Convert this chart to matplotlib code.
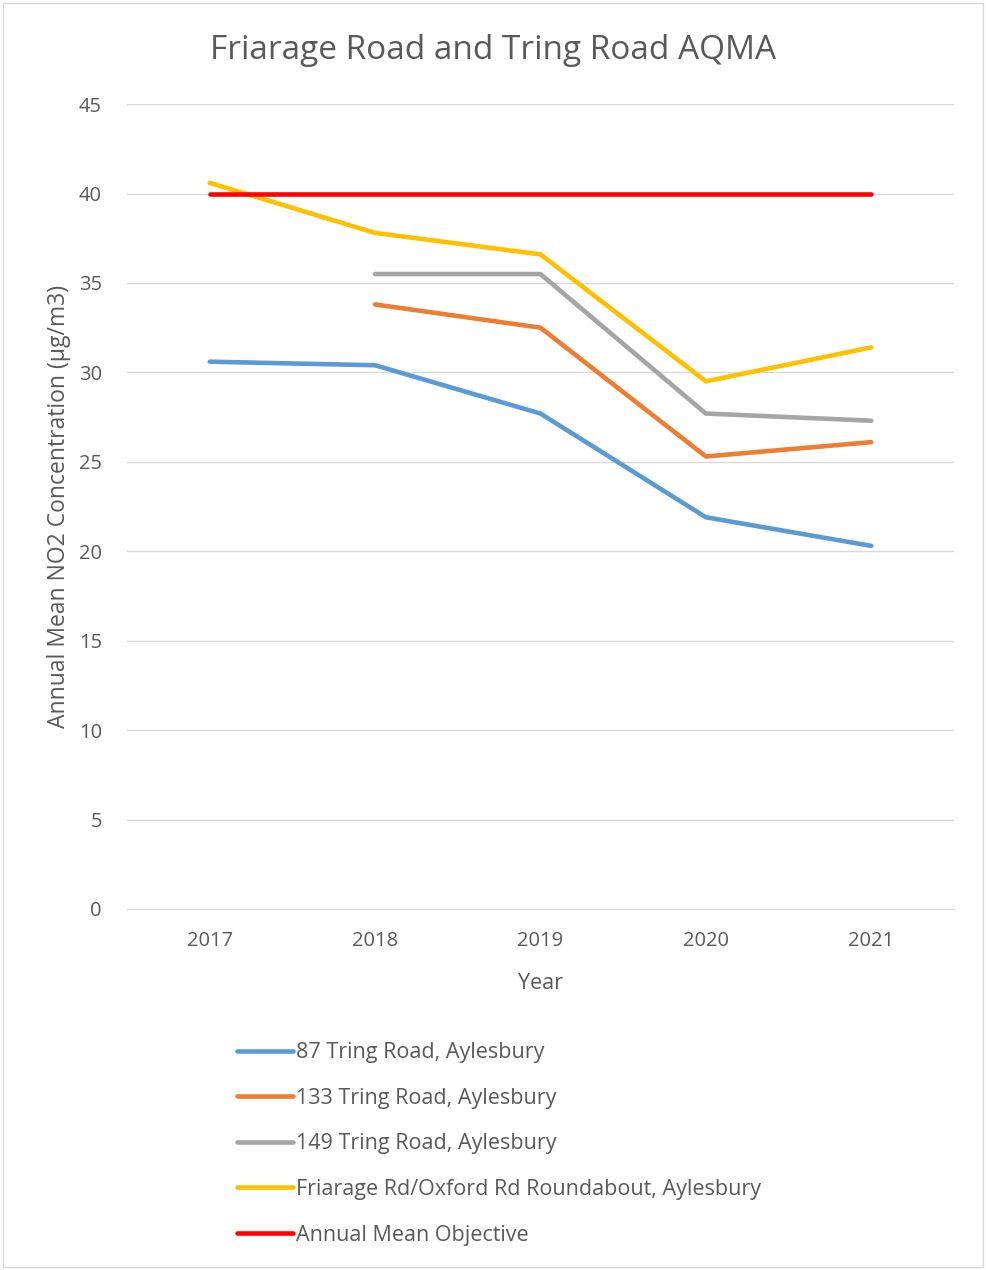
import numpy as np
import matplotlib
matplotlib.use("Agg")
import matplotlib.pyplot as plt
from matplotlib.patches import Rectangle

plt.rcParams['font.family'] = ['Open Sans', 'DejaVu Sans']

years = ['2017', '2018', '2019', '2020', '2021']
tring_87 = [30.6, 30.4, 27.7, 21.9, 20.3]
tring_133 = [np.nan, 33.8, 32.5, 25.3, 26.1]
tring_149 = [np.nan, 35.5, 35.5, 27.7, 27.3]
friarage = [40.6, 37.8, 36.6, 29.5, 31.4]
objective = [40, 40, 40, 40, 40]

series = [
    ("87 Tring Road, Aylesbury", tring_87, '#5B9BD5'),
    ("133 Tring Road, Aylesbury", tring_133, '#ED7D31'),
    ("149 Tring Road, Aylesbury", tring_149, '#A5A5A5'),
    ("Friarage Rd/Oxford Rd Roundabout, Aylesbury", friarage, '#FFC000'),
    ("Annual Mean Objective", objective, '#FF0000'),
]

txt = '#595959'

fig = plt.figure(figsize=(9.86, 12.7), dpi=100)
# light border round the chart
fig.patches.append(Rectangle((0.003, 0.002), 0.994, 0.996, transform=fig.transFigure,
                             fill=False, edgecolor='#D9D9D9', lw=1))
ax = fig.add_axes([0.1288, 0.2843, 0.8387, 0.6337])

x = np.arange(len(years))
handles = []
for name, vals, col in series:
    h, = ax.plot(x, vals, color=col, lw=3.3, solid_capstyle='round', label=name)
    handles.append(h)

ax.set_xlim(-0.5, len(years) - 0.5)
ax.set_ylim(0, 45)
ax.set_yticks(np.arange(0, 46, 5))
ax.set_xticks(x)
ax.set_xticklabels(years)
ax.grid(axis='y', color='#D9D9D9', lw=1)
ax.set_axisbelow(True)
for s in ['top', 'right', 'left']:
    ax.spines[s].set_visible(False)
ax.spines['bottom'].set_color('#D9D9D9')
ax.tick_params(length=0, colors=txt, labelsize=14.5)
ax.tick_params(axis='y', pad=18)
ax.tick_params(axis='x', pad=16)

ax.set_xlabel('Year', color=txt, fontsize=15.5, labelpad=16)
ax.set_ylabel('Annual Mean NO2 Concentration (µg/m3)', color=txt, fontsize=16.5, labelpad=6)
fig.text(0.5, 0.960, 'Friarage Road and Tring Road AQMA', ha='center', va='center',
         color=txt, fontsize=24)

fig.legend(handles=handles, loc='upper left', bbox_to_anchor=(0.2316, 0.186),
           frameon=False, fontsize=15.5, labelcolor=txt, handlelength=2.6,
           handletextpad=0.12, labelspacing=1.14, borderaxespad=0)

fig.savefig('out.png', dpi=100)
